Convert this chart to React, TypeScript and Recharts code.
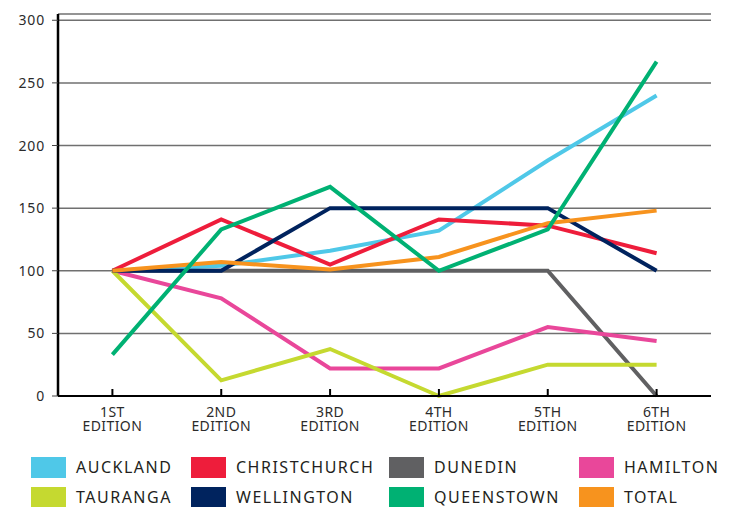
import React from 'react';
import { LineChart, Line, XAxis, YAxis, CartesianGrid } from 'recharts';

const categories = ['1ST EDITION', '2ND EDITION', '3RD EDITION', '4TH EDITION', '5TH EDITION', '6TH EDITION'];
const yTicks = [0, 50, 100, 150, 200, 250, 300];

const auckland = [100, 104, 116, 132, 188, 240];
const christchurch = [100, 141, 105, 141, 136, 114];
const dunedin = [100, 100, 100, 100, 100, 0];
const hamilton = [100, 78, 22, 22, 55, 44];
const tauranga = [100, 12.5, 37.5, 0, 25, 25];
const wellington = [100, 100, 150, 150, 150, 100];
const queenstown = [33, 133, 167, 100, 133, 267];
const total = [100, 107, 101, 111, 138, 148];

const series = [
  { key: 'AUCKLAND', values: auckland, color: '#4fc8e8' },
  { key: 'CHRISTCHURCH', values: christchurch, color: '#ee1d3b' },
  { key: 'DUNEDIN', values: dunedin, color: '#606062' },
  { key: 'HAMILTON', values: hamilton, color: '#e9479a' },
  { key: 'TAURANGA', values: tauranga, color: '#c5d930' },
  { key: 'WELLINGTON', values: wellington, color: '#00235e' },
  { key: 'QUEENSTOWN', values: queenstown, color: '#00b173' },
  { key: 'TOTAL', values: total, color: '#f7931e' },
];

const drawOrder = ['DUNEDIN', 'HAMILTON', 'TAURANGA', 'AUCKLAND', 'CHRISTCHURCH', 'WELLINGTON', 'TOTAL', 'QUEENSTOWN'];

const data = categories.map((c, i) => {
  const row: Record<string, any> = { name: c };
  series.forEach((s) => {
    row[s.key] = s.values[i];
  });
  return row;
});

const FONT = '"Noto Sans", sans-serif';
const TEXT = '#2b2b2b';

const XTick = (props: any) => {
  const { x, y, payload } = props;
  const parts = String(payload.value).split(' ');
  return (
    <g>
      <line x1={x} y1={y - 7} x2={x} y2={y} stroke="#000" strokeWidth={2} />
      <text x={x} y={y + 20.7} textAnchor="middle" fill={TEXT} fontSize={14} fontFamily={FONT} letterSpacing={0.4}>
        {parts[0]}
      </text>
      <text x={x} y={y + 35} textAnchor="middle" fill={TEXT} fontSize={14} fontFamily={FONT} letterSpacing={0.4}>
        {parts[1]}
      </text>
    </g>
  );
};

const YTick = (props: any) => {
  const { x, y, payload } = props;
  return (
    <text x={x} y={y} dy="0.36em" textAnchor="end" fill={TEXT} fontSize={14} fontFamily={FONT} letterSpacing={0.8}>
      {payload.value}
    </text>
  );
};

export default function App() {
  return (
    <div style={{ position: 'absolute', left: 0, top: 0, width: 734, height: 507, background: '#fff' }}>
      <LineChart width={734} height={446} data={data} margin={{ top: 14, right: 23, bottom: 0, left: 0 }}>
        <CartesianGrid vertical={false} stroke="#707070" strokeWidth={1.5} />
        <XAxis
          dataKey="name"
          height={50}
          padding={{ left: 54.4, right: 54.4 }}
          tickSize={0}
          tickMargin={0}
          tickLine={false}
          axisLine={{ stroke: '#000', strokeWidth: 2 }}
          tick={XTick}
          interval={0}
        />
        <YAxis
          width={58}
          domain={[0, 305]}
          ticks={yTicks}
          tickSize={6}
          tickMargin={7}
          tickLine={{ stroke: '#444', strokeWidth: 1 }}
          axisLine={{ stroke: '#000', strokeWidth: 2.5 }}
          tick={YTick}
          interval={0}
        />
        {drawOrder.map((k) => {
          const s = series.find((x) => x.key === k)!;
          return (
            <Line
              key={k}
              type="linear"
              dataKey={k}
              stroke={s.color}
              strokeWidth={4}
              dot={false}
              activeDot={false}
              isAnimationActive={false}
            />
          );
        })}
      </LineChart>
      <div
        style={{
          position: 'absolute',
          left: 31,
          top: 457,
          display: 'grid',
          gridTemplateColumns: '160px 198px 190px 150px',
          rowGap: 9.5,
          fontFamily: FONT,
          fontSize: 16,
          letterSpacing: 1.5,
          color: '#231f20',
        }}
      >
        {series.map((s) => (
          <div key={s.key} style={{ display: 'flex', alignItems: 'center', height: 20.5 }}>
            <div style={{ width: 35, height: 20.5, background: s.color, flexShrink: 0 }} />
            <span style={{ marginLeft: 10, whiteSpace: 'nowrap', lineHeight: '16px' }}>{s.key}</span>
          </div>
        ))}
      </div>
    </div>
  );
}
